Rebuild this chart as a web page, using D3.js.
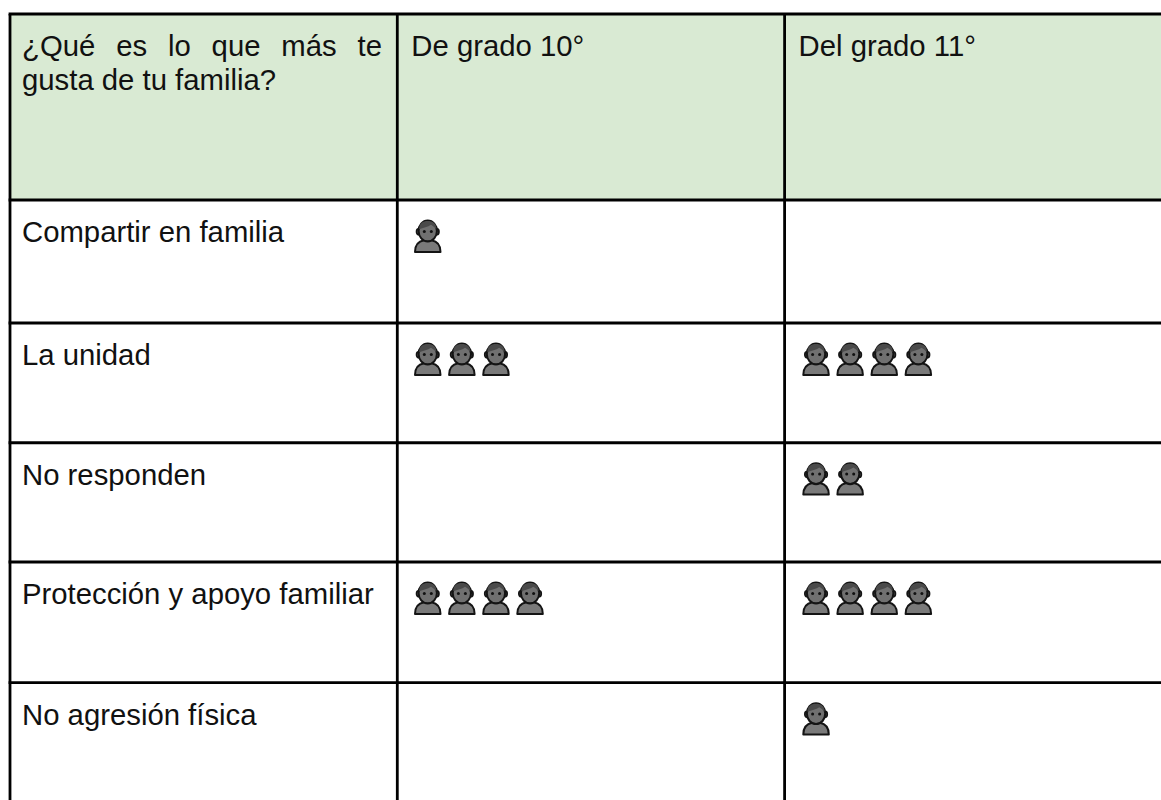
<!DOCTYPE html>
<html><head><meta charset="utf-8">
<script src="https://cdn.jsdelivr.net/npm/d3@7"></script>
<style>html,body{margin:0;padding:0;background:#fff;overflow:hidden}svg{display:block}text{font-family:"Liberation Sans",Arial,sans-serif;font-size:29.3px;fill:#111}</style>
</head><body><svg id="c" width="1161" height="800"></svg>
<script>
const categories=["Compartir en familia","La unidad","No responden","Protección y apoyo familiar","No agresión física"];
const headerLines=["¿Qué es lo que más te","gusta de tu familia?"];
const columns=["De grado 10°","Del grado 11°"];
const grade10=[1,3,0,4,0];
const grade11=[0,4,2,4,1];
const svg=d3.select("#c");
const rowEdges=[14,200,323,442.7,562,682.6];
const colEdges=[10,397.3,784.6,1161];
const black="#000";
svg.append("rect").attr("x",colEdges[0]).attr("y",rowEdges[0]).attr("width",1161-colEdges[0]).attr("height",rowEdges[1]-rowEdges[0]).attr("fill","#d9ead3");
const rowY=d3.scaleOrdinal().domain(categories).range(rowEdges.slice(1,6));
const colX=d3.scaleOrdinal().domain(["label",...columns]).range(colEdges.slice(0,3));
const iconX=d3.scaleLinear().domain([0,1]).range([0,34.1]);
svg.selectAll("line.h").data(rowEdges).join("line").attr("class","h")
 .attr("x1",colEdges[0]-1.4).attr("x2",1161).attr("y1",d=>d).attr("y2",d=>d).attr("stroke",black).attr("stroke-width",2.9);
svg.selectAll("line.v").data(colEdges.slice(0,3)).join("line").attr("class","v")
 .attr("x1",d=>d).attr("x2",d=>d).attr("y1",rowEdges[0]).attr("y2",800).attr("stroke",black).attr("stroke-width",2.8);
const h1=svg.append("text").attr("x",22).attr("y",56).text(headerLines[0]);
const w=h1.node().getComputedTextLength();
h1.attr("word-spacing",(382-22-w)/(headerLines[0].split(" ").length-1));
svg.append("text").attr("x",22).attr("y",89.5).text(headerLines[1]);
svg.selectAll("text.col").data(columns).join("text").attr("class","col")
 .attr("x",d=>colX(d)+14).attr("y",56).text(d=>d);
svg.selectAll("text.cat").data(categories).join("text").attr("class","cat")
 .attr("x",22).attr("y",d=>rowY(d)+42).text(d=>d);
function person(g){
 const edge="#141414";
 g.append("path").attr("d","M1,32.2 C1,25.5 4.5,21.5 10,20.5 L17.5,20.5 C23,21.5 26.5,25.5 26.5,32.2 Z").attr("fill","#7a7a7a").attr("stroke",edge).attr("stroke-width",2).attr("stroke-linejoin","round");
 [4.4,23.1].forEach(cx=>g.append("ellipse").attr("cx",cx).attr("cy",12).attr("rx",1.8).attr("ry",2.8).attr("fill","#6e6e6e").attr("stroke",edge).attr("stroke-width",1.8));
 g.append("ellipse").attr("cx",13.75).attr("cy",11.3).attr("rx",9.2).attr("ry",10.4).attr("fill","#707070").attr("stroke",edge).attr("stroke-width",2.1);
 g.append("path").attr("d","M5.2,9.5 C5,4 8.8,1.4 13.75,1.4 C18.7,1.4 22.5,4 22.3,9.5 C20.8,7.6 19,6.2 17,5 C14,7.5 9,7.8 5.2,9.5 Z").attr("fill","#4a4a4a");
 [10.3,17.3].forEach(cx=>g.append("circle").attr("cx",cx).attr("cy",11.7).attr("r",1.5).attr("fill","#111"));
}
[[columns[0],grade10,414],[columns[1],grade11,802.3]].forEach(([c,vals,x0])=>{
 categories.forEach((cat,i)=>{
  const top=rowY(cat);
  const g=svg.selectAll(null).data(d3.range(vals[i])).join("g")
   .attr("transform",k=>`translate(${x0+iconX(k)},${top+19.7})`);
  g.each(function(){person(d3.select(this));});
 });
});
</script></body></html>
